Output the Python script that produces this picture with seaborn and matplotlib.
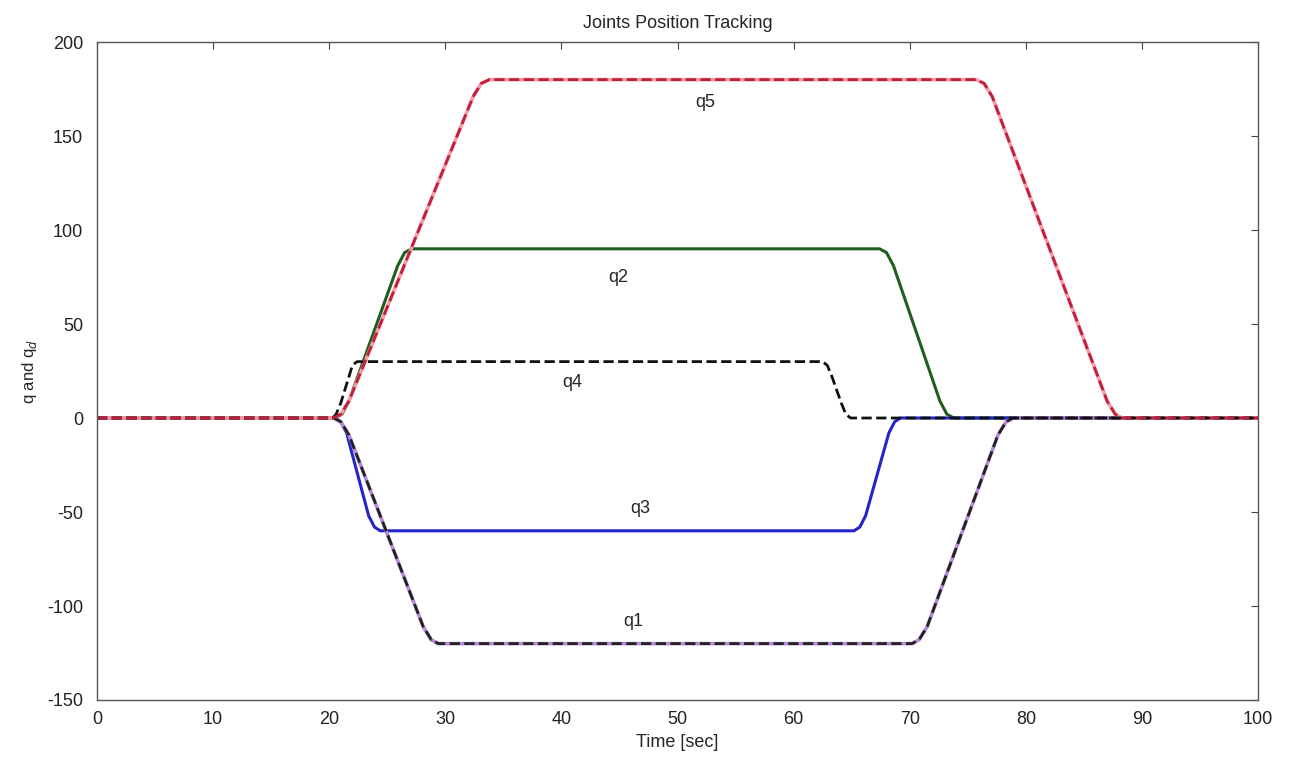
import matplotlib
matplotlib.use("Agg")
import matplotlib.pyplot as plt
import seaborn as sns

# knot points (time [sec], joint angle [deg])
t_q1 = [0, 20.4, 21.0, 21.7, 28.1, 28.8, 29.4, 70.2, 70.8, 71.5, 77.6, 78.3, 78.9, 100]
q1 = [0, 0, -2, -9, -111, -118, -120, -120, -118, -111, -9, -2, 0, 0]

t_q2 = [0, 20.5, 21.1, 21.7, 25.9, 26.5, 27.1, 67.4, 68.0, 68.6, 72.6, 73.2, 73.8, 100]
q2 = [0, 0, 2, 9, 81, 88, 90, 90, 88, 81, 9, 2, 0, 0]

t_q3 = [0, 20.5, 21.0, 21.5, 23.4, 23.9, 24.4, 65.2, 65.7, 66.2, 68.2, 68.7, 69.2, 100]
q3 = [0, 0, -2, -8, -52, -58, -60, -60, -58, -52, -8, -2, 0, 0]

t_q4 = [0, 20.3, 20.6, 21.0, 21.6, 22.0, 22.4, 62.5, 62.9, 63.3, 64.1, 64.5, 64.9, 100]
q4 = [0, 0, 2, 8, 20, 28, 30, 30, 28, 22, 8, 2, 0, 0]

t_q5 = [0, 20.3, 21.0, 21.7, 32.4, 33.1, 33.8, 75.7, 76.4, 77.1, 87.0, 87.7, 88.3, 100]
q5 = [0, 0, 2, 9, 171, 178, 180, 180, 178, 171, 9, 2, 0, 0]

labels = ["q1", "q2", "q3", "q4", "q5"]
label_t = [46.2, 44.9, 46.8, 40.9, 52.4]
label_q = [-108, 75, -48, 19, 168]

sns.set_style("white")
plt.rcParams["font.family"] = ["Liberation Sans", "DejaVu Sans"]
plt.rcParams["axes.unicode_minus"] = False

fig = plt.figure(figsize=(12.91, 7.57), dpi=100)
ax = fig.add_axes([0.0751, 0.0753, 0.8994, 0.8692])

# actual trajectories (solid) and desired trajectories (dashed)
sns.lineplot(x=t_q2, y=q2, ax=ax, color="#1e5e1e", linewidth=2.2)
sns.lineplot(x=t_q3, y=q3, ax=ax, color="#2424cc", linewidth=2.2)
sns.lineplot(x=t_q1, y=q1, ax=ax, color="#b48ad6", linewidth=2.6)
sns.lineplot(x=t_q5, y=q5, ax=ax, color="#f59aa6", linewidth=2.6)
sns.lineplot(x=t_q1, y=q1, ax=ax, color="#222222", linewidth=2.0, linestyle="--")
sns.lineplot(x=t_q4, y=q4, ax=ax, color="#111111", linewidth=2.0, linestyle="--")
sns.lineplot(x=t_q5, y=q5, ax=ax, color="#c21f3a", linewidth=2.0, linestyle="--")

for name, tx, qy in zip(labels, label_t, label_q):
    ax.text(tx, qy, name, fontsize=13, ha="center", va="center")

ax.set_xlim(0, 100)
ax.set_ylim(-150, 200)
ax.set_xticks(range(0, 101, 10))
ax.set_yticks(range(-150, 201, 50))
ax.tick_params(direction="in", top=True, right=True, labelsize=13, length=5, width=0.8, colors="#444444", labelcolor="#222222")
ax.tick_params(axis="x", pad=8)
ax.tick_params(axis="y", pad=10)
for spine in ax.spines.values():
    spine.set_color("#555555")
    spine.set_linewidth(1.0)

ax.set_title("Joints Position Tracking", fontsize=13, pad=10)
ax.set_xlabel("Time [sec]", fontsize=13, labelpad=4)
ax.set_ylabel("q and q$_d$", fontsize=12, labelpad=6)

fig.savefig("out.png", dpi=100)
